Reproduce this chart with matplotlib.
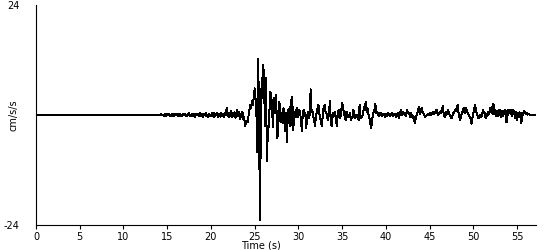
import matplotlib
matplotlib.use("Agg")
import matplotlib.pyplot as plt
import numpy as np

# accelerogram, one value every 0.1 s (cm/s/s)
dt = 0.1
quiet = [0.0] * 140  # 0.0 - 13.9 s, flat before the first arrival
motion = [
    0.0, 0.1, -0.1, 0.2, -0.1, 0.1, -0.2, 0.2, 0.0, -0.2,      # 14
    0.2, -0.1, 0.3, -0.2, 0.1, -0.3, 0.2, 0.0, -0.2, 0.3,      # 15
    -0.1, 0.2, -0.3, 0.1, 0.3, -0.2, 0.0, -0.3, 0.2, -0.1,     # 16
    0.3, -0.2, 0.1, -0.3, 0.2, 0.4, -0.1, -0.3, 0.2, 0.1,      # 17
    -0.2, 0.3, -0.4, 0.2, -0.1, 0.3, -0.3, 0.1, 0.4, -0.2,     # 18
    0.2, -0.4, 0.3, -0.1, 0.4, -0.3, 0.1, -0.4, 0.3, 0.0,      # 19
    -0.3, 0.4, -0.2, 0.5, -0.4, 0.2, -0.1, 0.4, -0.5, 0.3,     # 20
    0.1, -0.4, 0.5, -0.2, 0.3, -0.5, 0.4, 0.0, 1.5, -0.3,      # 21
    0.4, -0.5, 0.3, 0.8, -0.4, 0.5, -0.2, 0.6, -0.6, 0.3,      # 22
    1.2, -0.3, 0.6, -0.8, 0.2, -0.5, 0.7, -1.0, -0.4, -2.4,    # 23
    -1.8, -1.2, -1.6, -0.2, 1.0, 2.3, 1.5, 3.0, 2.2, 3.8,      # 24
    5.8, 3.5, 0.5, -8.0, 12.2, 1.0, -23.0, -4.0, 8.0, 3.7,     # 25
    10.9, 4.0, -2.5, 8.0, -10.0, -4.0, -2.5, 1.5, 5.0, 4.5,    # 26
    1.0, -2.6, 3.7, 0.5, 4.4, 1.0, -5.0, -3.3, 2.9, 2.2,       # 27
    -1.5, 0.4, -1.8, 1.5, -0.5, -3.6, 0.4, -5.8, 1.1, -1.1,    # 28
    1.8, -2.5, 3.3, 4.0, -3.3, -1.0, 0.7, -0.5, 1.5, 0.2,      # 29
    -0.4, 1.2, 0.4, -1.0, -3.6, 0.3, 1.1, -0.2, 0.4, -2.8,     # 30
    -0.3, 0.7, -0.6, 0.0, 5.6, 0.7, 1.0, -0.4, -1.0, -2.5,     # 31
    -0.5, 0.7, 1.5, 2.2, 0.3, -0.7, -1.8, -2.5, 0.5, 1.8,      # 32
    2.2, 0.8, 0.4, -0.5, -1.1, 0.5, 3.0, -0.8, -2.5, -0.6,     # 33
    0.4, -0.3, 0.7, -1.1, -2.5, 0.2, 1.1, 0.4, -0.7, 1.0,      # 34
    2.7, 1.8, 0.4, -0.3, -1.1, 0.7, 0.1, -0.4, 0.0, 0.4,       # 35
    -1.1, -0.6, -0.4, 1.1, 0.2, -0.7, -0.2, 0.0, -0.6, -1.1,   # 36
    2.3, -0.4, -0.7, -0.2, 0.4, 1.8, 1.0, 2.9, 0.7, 1.5,       # 37
    0.3, -0.4, -1.5, -2.9, -1.8, -0.2, 0.7, 1.1, 2.4, 0.4,     # 38
    0.7, 0.2, -0.3, 0.0, 0.5, 0.4, -0.2, 0.0, 0.3, -0.4,       # 39
    0.2, -0.3, 0.4, -0.1, 0.3, -0.2, 0.1, 0.4, -0.3, 0.2,      # 40
    -0.1, 0.3, -0.4, 0.2, 0.5, -0.7, 0.1, 1.1, 0.3, 0.0,       # 41
    0.7, 0.2, 0.0, -0.3, 1.1, 0.6, 0.4, 0.1, -0.4, 0.4,        # 42
    -0.2, -0.7, -0.3, -1.7, -1.0, -0.2, 0.5, 1.1, 1.8, 0.3,    # 43
    0.7, 1.5, 0.6, 0.4, -0.1, -0.4, -0.2, 0.0, 0.2, 0.0,       # 44
    0.4, -0.1, 0.0, 0.3, 0.7, 0.2, 0.4, 0.8, 1.1, 0.3,         # 45
    0.0, 0.3, 0.7, 0.5, 1.1, 1.9, 0.4, -0.2, -0.4, 0.7,        # 46
    0.3, 1.1, 0.6, 0.0, -0.3, -0.7, -0.2, 0.4, 0.6, 1.1,       # 47
    0.8, 1.5, 2.2, 0.7, -0.3, -1.1, -0.2, 0.4, 0.9, 1.5,       # 48
    0.4, 1.1, 1.5, 0.6, 0.4, -0.2, -0.4, -0.9, -1.9, -0.6,     # 49
    0.4, 1.2, 2.3, 1.0, 0.4, -0.2, -0.7, -0.3, 0.0, -0.4,      # 50
    -0.2, 1.1, 0.6, 0.4, -0.7, 0.2, -0.3, 0.7, 0.1, 1.5,       # 51
    0.6, 1.8, 0.2, 2.5, 0.3, 1.1, -0.2, 0.8, -0.3, 1.2,        # 52
    -0.1, 1.1, -0.4, 0.9, -0.3, 0.7, 1.2, -0.2, -1.6, 1.0,     # 53
    0.0, 1.0, 0.4, 1.1, -0.3, 1.1, 0.3, 0.9, -0.7, 0.6,        # 54
    -1.1, 0.5, -0.4, 0.6, -0.3, -1.8, 0.4, 0.0, 0.8, 0.5,      # 55
    0.3, 0.4, 0.1, 0.2, 0.1, 0.1, 0.1, 0.1, 0.1, 0.1,          # 56
    0.1, 0.1,                                                  # 57
]
accel = np.array(quiet + motion)
time = np.arange(len(accel)) * dt

xticks = [0, 5, 10, 15, 20, 25, 30, 35, 40, 45, 50, 55]

fig = plt.figure(figsize=(5.5, 2.5), dpi=100)
ax = fig.add_axes([36 / 550, 25 / 250, 500 / 550, 220 / 250])

ax.plot(time, accel, color="black", lw=0.7, antialiased=False)
pre = time <= 14.0
ax.plot(time[pre], accel[pre], color="black", lw=1.2, antialiased=False)

ax.set_xlim(0, 57.17)
ax.set_ylim(-24, 24)
for s in ["top", "right"]:
    ax.spines[s].set_visible(False)
ax.spines["left"].set_linewidth(0.8)
ax.spines["bottom"].set_linewidth(0.8)

ax.set_xticks(xticks)
ax.set_xticklabels([str(k) for k in xticks], fontsize=7)
ax.tick_params(axis="x", length=3, width=0.8, pad=2)
ax.set_yticks([-24, 24])
ax.set_yticklabels(["-24", "24"], fontsize=7)
ax.tick_params(axis="y", length=0, pad=12)

fig.text(14 / 550, 1 - 115 / 250, "cm/s/s", fontsize=7, rotation=90,
         ha="center", va="center")
fig.text(261 / 550, 1 - 246 / 250, "Time (s)", fontsize=7, ha="center", va="center")

fig.savefig("out.png", dpi=100)
